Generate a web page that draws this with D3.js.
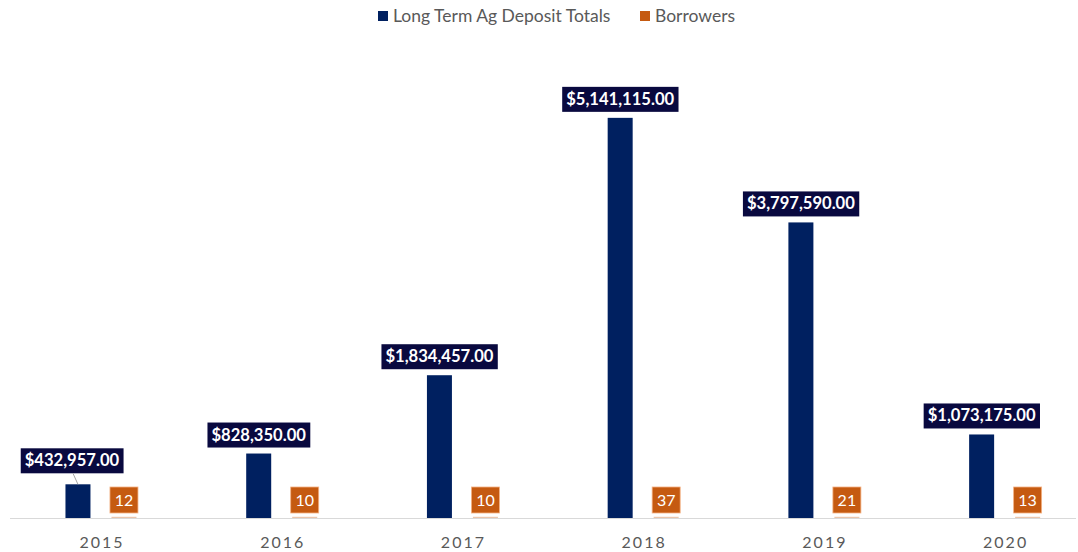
<!DOCTYPE html>
<html>
<head>
<meta charset="utf-8">
<script src="https://cdn.jsdelivr.net/npm/d3@7"></script>
<style>
  body { margin: 0; background: #fff; }
  text { font-family: Lato, "Liberation Sans", sans-serif; }
</style>
</head>
<body>
<script>
var years = ['2015', '2016', '2017', '2018', '2019', '2020'];
var depositTotals = [432957, 828350, 1834457, 5141115, 3797590, 1073175];
var borrowers = [12, 10, 10, 37, 21, 13];
var seriesNames = ['Long Term Ag Deposit Totals', 'Borrowers'];

var width = 1078, height = 552;
var navy = '#002060', orange = '#C55A11', labelNavy = '#09093F';

var svg = d3.select('body').append('svg')
    .attr('width', width)
    .attr('height', height);

var x = d3.scaleBand().domain(years).range([10.6, 1095]);
var y = d3.scaleLinear().domain([0, 6000000]).range([518, 51]);
var barW = 25, offset = 23;

// axis line + labels
svg.append('line')
    .attr('x1', 10).attr('x2', 1076)
    .attr('y1', y(0) + 0.5).attr('y2', y(0) + 0.5)
    .attr('stroke', '#d9d9d9').attr('stroke-width', 1);

svg.selectAll('text.year')
    .data(years)
    .enter().append('text')
    .attr('class', 'year')
    .attr('x', function(d) { return x(d) + x.bandwidth() / 2 + 1; })
    .attr('y', 548)
    .attr('text-anchor', 'middle')
    .attr('font-size', 16)
    .attr('letter-spacing', 2)
    .attr('fill', '#595959')
    .text(function(d) { return d; });

var money = d3.format('$,.2f');

// deposit bars
svg.selectAll('rect.dep')
    .data(depositTotals)
    .enter().append('rect')
    .attr('class', 'dep')
    .attr('x', function(d, i) { return x(years[i]) + x.bandwidth() / 2 - offset - barW / 2; })
    .attr('y', function(d) { return y(d); })
    .attr('width', barW)
    .attr('height', function(d) { return y(0) - y(d); })
    .attr('fill', navy);

// borrower bars (tiny on this scale)
svg.selectAll('rect.bor')
    .data(borrowers)
    .enter().append('rect')
    .attr('class', 'bor')
    .attr('x', function(d, i) { return x(years[i]) + x.bandwidth() / 2 + offset - barW / 2; })
    .attr('y', function(d) { return y(d) - 1.2; })
    .attr('width', barW)
    .attr('height', function(d) { return y(0) - y(d) + 1.2; })
    .attr('fill', orange)
    .attr('opacity', 0.35);

// deposit labels
var depLabels = svg.selectAll('g.deplabel')
    .data(depositTotals)
    .enter().append('g')
    .attr('class', 'deplabel');

depLabels.each(function(d, i) {
    var g = d3.select(this);
    var cx = x(years[i]) + x.bandwidth() / 2 - offset;
    var top = y(d);
    var shift = 0, gap = 6;
    if (i === 0) { shift = -6; gap = 11; }
    var t = g.append('text')
        .attr('x', cx + shift)
        .attr('y', top - gap - 7)
        .attr('text-anchor', 'middle')
        .attr('font-size', 16.6)
        .attr('font-weight', 'bold')
        .attr('fill', '#fff')
        .text(money(d));
    var bb = t.node().getBBox();
    g.insert('rect', 'text')
        .attr('x', bb.x - 4)
        .attr('y', top - gap - 25)
        .attr('width', bb.width + 8)
        .attr('height', 25)
        .attr('fill', labelNavy);
    if (i === 0) {
        g.append('line')
            .attr('x1', cx - 5).attr('y1', top - gap)
            .attr('x2', cx).attr('y2', top)
            .attr('stroke', '#a6a6a6').attr('stroke-width', 1);
    }
});

// borrower labels
var borLabels = svg.selectAll('g.borlabel')
    .data(borrowers)
    .enter().append('g')
    .attr('class', 'borlabel');

borLabels.each(function(d, i) {
    var g = d3.select(this);
    var cx = x(years[i]) + x.bandwidth() / 2 + offset;
    g.append('rect')
        .attr('x', cx - 14)
        .attr('y', y(d) - 31)
        .attr('width', 28)
        .attr('height', 26)
        .attr('fill', orange)
        .attr('stroke', '#f4b183')
        .attr('stroke-width', 0.8);
    g.append('text')
        .attr('x', cx)
        .attr('y', y(d) - 12)
        .attr('text-anchor', 'middle')
        .attr('font-size', 16)
        .attr('fill', '#fff')
        .text(d);
});

// legend
var legend = svg.append('g');
var legendX = [378, 640];
var legendColors = [navy, orange];
seriesNames.forEach(function(name, i) {
    legend.append('rect')
        .attr('x', legendX[i]).attr('y', 11)
        .attr('width', 10).attr('height', 10)
        .attr('fill', legendColors[i]);
    legend.append('text')
        .attr('x', legendX[i] + 15).attr('y', 22)
        .attr('font-size', 17.5)
        .attr('fill', '#595959')
        .text(name);
});
</script>
</body>
</html>
